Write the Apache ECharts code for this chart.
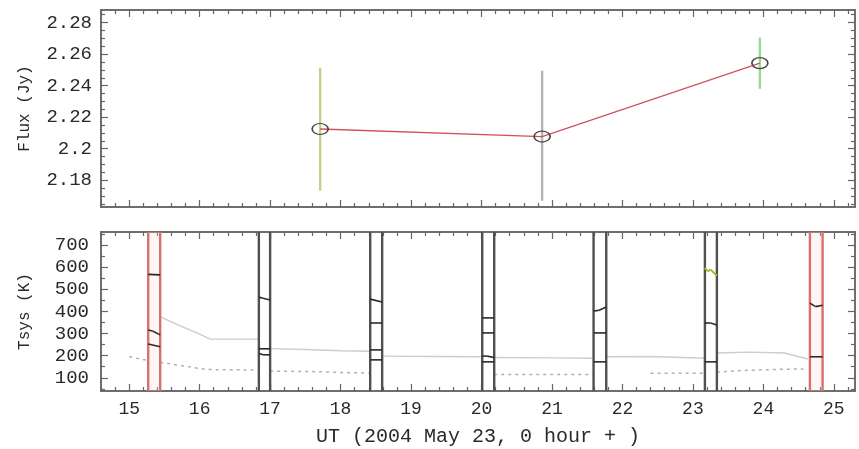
<!DOCTYPE html>
<html>
<head>
<meta charset="utf-8">
<script src="https://cdn.jsdelivr.net/npm/echarts@6/dist/echarts.min.js"></script>
<style>html,body{margin:0;padding:0;background:#fff}#c{width:859px;height:449px}</style>
</head>
<body>
<div id="c"></div>
<script>
// ---------- data ----------
const xRange = [14.6, 25.3];
const fluxRange = [2.163, 2.288];
const tsysRange = [40, 760];

const xMajor = [15, 16, 17, 18, 19, 20, 21, 22, 23, 24, 25];
const fluxMajor = [2.18, 2.2, 2.22, 2.24, 2.26, 2.28];
const tsysMajor = [100, 200, 300, 400, 500, 600, 700];

// flux points (UT hour, Jy) and error bars
const fluxX = [17.71, 20.86, 23.95];
const fluxY = [2.2125, 2.2077, 2.2543];
const fluxLo = [2.1733, 2.1670, 2.2380];
const fluxHi = [2.2514, 2.2495, 2.2705];
const errColors = ['#c8cf8a', '#b4b4b4', '#98d898'];

// scan bands: left edge, right edge, colour (0 black, 1 red)
const bandLeft  = [15.27, 16.84, 18.42, 20.01, 21.59, 23.17, 24.66];
const bandRight = [15.44, 17.00, 18.59, 20.18, 21.77, 23.34, 24.84];
const bandColor = [1, 0, 0, 0, 0, 0, 1];

// Tsys short segments inside bands: x0, T0, x1, T1, colour (0 black, 1 green)
const tsysSegs = [
  [15.27, 568, 15.44, 566, 0],
  [15.27, 316, 15.33, 312, 0], [15.33, 312, 15.44, 294, 0],
  [15.27, 253, 15.44, 240, 0],
  [16.84, 465, 16.90, 460, 0], [16.90, 460, 17.00, 452, 0],
  [16.84, 231, 17.00, 231, 0],
  [16.84, 210, 16.90, 204, 0], [16.90, 204, 17.00, 204, 0],
  [18.42, 456, 18.59, 443, 0],
  [18.42, 348, 18.59, 348, 0],
  [18.42, 226, 18.59, 226, 0],
  [18.42, 181, 18.59, 181, 0],
  [20.01, 371, 20.18, 371, 0],
  [20.01, 303, 20.18, 303, 0],
  [20.01, 198, 20.08, 198, 0], [20.08, 198, 20.18, 192, 0],
  [20.01, 172, 20.18, 172, 0],
  [21.59, 402, 21.66, 405, 0], [21.66, 405, 21.77, 420, 0],
  [21.59, 303, 21.77, 303, 0],
  [21.59, 172, 21.77, 172, 0],
  [23.17, 598, 23.21, 582, 1], [23.21, 582, 23.25, 590, 1], [23.25, 590, 23.34, 562, 1],
  [23.17, 348, 23.25, 348, 0], [23.25, 348, 23.34, 339, 0],
  [23.17, 172, 23.34, 172, 0],
  [24.66, 438, 24.74, 422, 0], [24.74, 422, 24.84, 428, 0],
  [24.66, 195, 24.84, 195, 0]
];

// faint background Tsys curves (upper: solid, lower: dashed)
const upperCurves = [
  [[15.45, 375], [15.7, 338], [16.0, 298], [16.15, 275], [16.84, 275]],
  [[17.0, 232], [17.5, 228], [18.0, 222], [18.42, 220]],
  [[18.6, 198], [19.3, 196], [20.0, 195]],
  [[20.18, 192], [21.0, 190], [21.58, 188]],
  [[21.77, 195], [22.4, 196], [23.17, 188]],
  [[23.34, 212], [23.8, 216], [24.3, 212], [24.63, 185]]
];
const lowerCurves = [
  [[15.0, 195], [15.27, 178]],
  [[15.44, 170], [15.8, 152], [16.1, 137], [16.84, 135]],
  [[17.0, 130], [17.6, 128], [18.0, 124], [18.4, 121]],
  [[20.18, 115], [21.58, 115]],
  [[22.4, 120], [23.17, 120]],
  [[23.34, 125], [23.7, 133], [24.2, 138], [24.55, 140], [24.62, 130]]
];

// ---------- helpers ----------
function steps(a, b, s) { const r = []; for (let v = a; v <= b + 1e-9; v += s) r.push(Math.round(v * 10000) / 10000); return r; }
const xMinor = steps(14.6, 25.3, 0.2).filter(v => Math.abs(v - Math.round(v)) > 1e-6);
const fluxMinor = steps(2.165, 2.285, 0.005).filter(v => !fluxMajor.some(m => Math.abs(m - v) < 1e-6));
const tsysMinor = [50, 150, 250, 350, 450, 550, 650, 750];

const axisCol = '#666';
const txtCol = '#2a2a2a';
const font = 'Liberation Mono';

function xAx(grid, pos, vals, len, labels, name) {
  const o = {
    type: 'value', gridIndex: grid, position: pos, min: xRange[0], max: xRange[1],
    axisLine: { show: true, lineStyle: { color: axisCol, width: 1.5 } },
    axisTick: { show: true, inside: true, length: len, customValues: vals, lineStyle: { color: axisCol, width: 1.2 } },
    axisLabel: { show: !!labels, customValues: xMajor, color: txtCol, fontFamily: font, fontSize: 18, margin: 9 },
    splitLine: { show: false }
  };
  if (name) {
    o.name = name; o.nameLocation = 'middle'; o.nameGap = 36;
    o.nameTextStyle = { color: txtCol, fontFamily: font, fontSize: 20 };
  }
  return o;
}
function yAx(grid, pos, range, vals, len, labels, name, margin) {
  const o = {
    type: 'value', gridIndex: grid, position: pos, min: range[0], max: range[1],
    axisLine: { show: true, lineStyle: { color: axisCol, width: 1.5 } },
    axisTick: { show: true, inside: true, length: len, customValues: vals, lineStyle: { color: axisCol, width: 1.2 } },
    axisLabel: { show: !!labels, customValues: labels || [], color: txtCol, fontFamily: font, fontSize: 19, margin: margin || 8 },
    splitLine: { show: false }
  };
  if (name) {
    o.name = name; o.nameLocation = 'middle'; o.nameGap = 68; o.nameRotate = 90;
    o.nameTextStyle = { color: txtCol, fontFamily: font, fontSize: 16 };
  }
  return o;
}

const xAxis = [
  xAx(0, 'bottom', xMajor, 7), xAx(0, 'bottom', xMinor, 4),
  xAx(0, 'top', xMajor, 7), xAx(0, 'top', xMinor, 4),
  xAx(1, 'bottom', xMajor, 7, true, 'UT (2004 May 23, 0 hour + )'), xAx(1, 'bottom', xMinor, 4),
  xAx(1, 'top', xMajor, 7), xAx(1, 'top', xMinor, 4)
];
const yAxis = [
  yAx(0, 'left', fluxRange, fluxMajor, 7, fluxMajor, 'Flux (Jy)', 9), yAx(0, 'left', fluxRange, fluxMinor, 4),
  yAx(0, 'right', fluxRange, fluxMajor, 7), yAx(0, 'right', fluxRange, fluxMinor, 4),
  yAx(1, 'left', tsysRange, tsysMajor, 7, tsysMajor, 'Tsys (K)', 12), yAx(1, 'left', tsysRange, tsysMinor, 4),
  yAx(1, 'right', tsysRange, tsysMajor, 7), yAx(1, 'right', tsysRange, tsysMinor, 4)
];

const series = [];

// error bars
series.push({
  type: 'custom', xAxisIndex: 0, yAxisIndex: 0, z: 1,
  data: fluxX.map((x, i) => [x, fluxLo[i], fluxHi[i], i]),
  encode: { x: 0, y: [1, 2] },
  renderItem: function (params, api) {
    const p1 = api.coord([api.value(0), api.value(1)]);
    const p2 = api.coord([api.value(0), api.value(2)]);
    return { type: 'line', shape: { x1: p1[0], y1: p1[1], x2: p2[0], y2: p2[1] },
      style: { stroke: errColors[api.value(3)], lineWidth: 2.4 } };
  }
});
// flux line with circles
series.push({
  type: 'line', xAxisIndex: 0, yAxisIndex: 0, z: 3,
  data: fluxX.map((x, i) => [x, fluxY[i]]),
  lineStyle: { color: '#d4505c', width: 1.3 },
  symbol: 'path://M0,50 A50,50 0 1 1 100,50 A50,50 0 1 1 0,50 Z',
  symbolSize: [16, 11], showSymbol: true,
  itemStyle: { color: 'rgba(0,0,0,0)', borderColor: '#444', borderWidth: 1.4 }
});

// background curves
upperCurves.forEach(c => series.push({
  type: 'line', xAxisIndex: 4, yAxisIndex: 4, z: 1, data: c, symbol: 'none',
  lineStyle: { color: '#cdcdcd', width: 1.4 }
}));
lowerCurves.forEach(c => series.push({
  type: 'line', xAxisIndex: 4, yAxisIndex: 4, z: 1, data: c, symbol: 'none',
  lineStyle: { color: '#b0b0b0', width: 1.5, type: [3, 4] }
}));

// scan bands
series.push({
  type: 'custom', xAxisIndex: 4, yAxisIndex: 4, z: 2,
  data: bandLeft.map((l, i) => [l, bandRight[i], bandColor[i]]),
  encode: { x: [0, 1] },
  renderItem: function (params, api) {
    const cs = params.coordSys;
    const xl = api.coord([api.value(0), tsysRange[0]])[0];
    const xr = api.coord([api.value(1), tsysRange[0]])[0];
    const red = api.value(2) === 1;
    const col = red ? '#d9706c' : '#505050';
    const children = [];
    if (red) children.push({ type: 'rect', shape: { x: xl, y: cs.y, width: xr - xl, height: cs.height }, style: { fill: 'rgba(250,215,210,0.25)' } });
    children.push({ type: 'line', shape: { x1: xl, y1: cs.y, x2: xl, y2: cs.y + cs.height }, style: { stroke: col, lineWidth: 2.4 } });
    children.push({ type: 'line', shape: { x1: xr, y1: cs.y, x2: xr, y2: cs.y + cs.height }, style: { stroke: col, lineWidth: 2.4 } });
    return { type: 'group', children: children };
  }
});

// Tsys segments
series.push({
  type: 'custom', xAxisIndex: 4, yAxisIndex: 4, z: 3,
  data: tsysSegs,
  encode: { x: [0, 2], y: [1, 3] },
  renderItem: function (params, api) {
    const green = api.value(4) === 1;
    const p1 = api.coord([api.value(0), api.value(1)]);
    const p2 = api.coord([api.value(2), api.value(3)]);
    return { type: 'line', shape: { x1: p1[0], y1: p1[1], x2: p2[0], y2: p2[1] },
      style: { stroke: green ? '#9cbf38' : '#2a2a2a', lineWidth: green ? 2 : 1.6 } };
  }
});

const chart = echarts.init(document.getElementById('c'), null, { renderer: 'canvas' });
chart.setOption({
  animation: false,
  backgroundColor: '#fff',
  grid: [
    { left: 101, right: 4, top: 10, height: 197 },
    { left: 101, right: 4, top: 232, height: 159 }
  ],
  xAxis: xAxis,
  yAxis: yAxis,
  series: series
});
</script>
</body>
</html>
